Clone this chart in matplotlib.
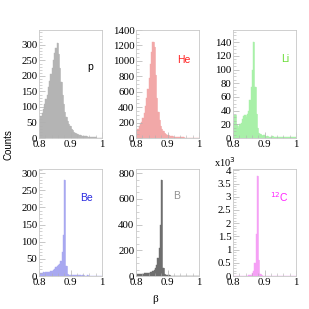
import numpy as np
import matplotlib
matplotlib.use("Agg")
import matplotlib.pyplot as plt
from matplotlib.ticker import MultipleLocator, FuncFormatter

# beta bins: 0.800 .. 1.000, width 0.004 (50 bins)
edges = np.round(np.arange(0.8, 1.0001, 0.004), 3)

counts_p = [60, 70, 80, 95, 110, 125, 140, 165, 185, 205, 225, 250, 275, 290,
            305, 270, 225, 180, 140, 110, 85, 68, 55, 45, 38, 30, 25, 20, 17, 14,
            12, 10, 9, 8, 7, 6, 5, 5, 4, 4, 3, 3, 2, 2, 2, 1, 1, 1, 1, 0]
counts_he = [100, 120, 150, 180, 210, 260, 330, 420, 520, 640, 780, 960, 1120, 1250,
             1180, 820, 520, 340, 230, 160, 120, 90, 70, 55, 42, 35, 28, 24, 20, 17,
             15, 13, 12, 10, 9, 8, 8, 7, 6, 6, 5, 5, 4, 4, 4, 3, 3, 3, 2, 2]
counts_li = [22, 33, 20, 18, 15, 20, 22, 28, 32, 33, 31, 35, 40, 55, 75,
             100, 140, 75, 35, 14, 8, 6, 5, 3, 4, 3, 2, 3, 2, 2,
             2, 3, 2, 2, 2, 1, 2, 2, 1, 2, 2, 1, 1, 2, 1, 1, 1, 2, 1, 1]
counts_be = [8, 10, 9, 11, 10, 12, 11, 13, 12, 14, 15, 18, 20, 25, 28,
             32, 35, 45, 70, 120, 280, 30, 6, 4, 3, 3, 2, 2, 3, 2,
             2, 2, 2, 1, 2, 2, 1, 1, 2, 1, 1, 1, 1, 1, 1, 1, 1, 1, 1, 0]
counts_b = [15, 16, 17, 18, 18, 19, 20, 21, 22, 24, 26, 28, 32, 38, 45,
            60, 85, 140, 220, 400, 750, 60, 12, 6, 5, 4, 4, 3, 3, 3,
            3, 2, 2, 2, 2, 2, 2, 2, 2, 1, 1, 1, 1, 1, 1, 1, 1, 1, 1, 1]
# 12C in units of 10^3
counts_c = [0.005, 0.005, 0.005, 0.006, 0.006, 0.007, 0.008, 0.008, 0.009, 0.01,
            0.012, 0.015, 0.02, 0.03, 0.05, 0.1, 0.2, 0.5, 1.6, 3.8,
            0.6, 0.08, 0.02, 0.01, 0.008, 0.006, 0.005, 0.005, 0.004, 0.004,
            0.004, 0.003, 0.003, 0.003, 0.003, 0.002, 0.002, 0.002, 0.002, 0.002,
            0.002, 0.002, 0.001, 0.001, 0.001, 0.001, 0.001, 0.001, 0.001, 0.001]

panels = [
    # counts, ylim, major, minor, label, text colour, fill colour
    (counts_p, 348, 50, 10, "p", "black", "#b4b4b4"),
    (counts_he, 1400, 200, 50, "He", "#ff2020", "#f2a8a8"),
    (counts_li, 158, 20, 5, "Li", "#66dd33", "#a8f0a8"),
    (counts_be, 312, 50, 10, "Be", "#2a2ae0", "#a8a8f0"),
    (counts_b, 832, 200, 50, "B", "#909090", "#6e6e6e"),
    (counts_c, 4.05, 0.5, 0.1, "$^{12}$C", "#ff22ff", "#f5a0f5"),
]
label_pos = [(0.76, 0.63), (0.65, 0.69), (0.77, 0.70),
             (0.65, 0.70), (0.59, 0.72), (0.58, 0.69)]

fig = plt.figure(figsize=(3.09, 3.09), dpi=100)
lefts = [39, 136, 233]
W = 309.0
serif = "Liberation Serif"

for i, (vals, ytop, maj, mnr, name, tcol, fcol) in enumerate(panels):
    row, col = divmod(i, 3)
    if row == 0:
        top, bot = 30, 138
    else:
        top, bot = 169, 276
    ax = fig.add_axes([lefts[col] / W, 1 - bot / W, 63 / W, (bot - top) / W])
    ax.stairs(vals, edges, fill=True, facecolor=fcol, edgecolor=fcol,
              hatch="//////", lw=0.3)
    ax.stairs(vals, edges, color=fcol, lw=0.5)
    ax.set_xlim(0.8, 1.0)
    ax.set_ylim(0, ytop)
    ax.xaxis.set_major_locator(MultipleLocator(0.1))
    ax.xaxis.set_minor_locator(MultipleLocator(0.02))
    ax.yaxis.set_major_locator(MultipleLocator(maj))
    ax.yaxis.set_minor_locator(MultipleLocator(mnr))
    ax.xaxis.set_major_formatter(FuncFormatter(lambda v, p: "%g" % round(v, 2)))
    ax.yaxis.set_major_formatter(FuncFormatter(lambda v, p: "%g" % round(v, 2)))
    ax.tick_params(which="both", direction="in", colors="#b0b0b0",
                   labelcolor="black", labelsize=7.8, pad=1.2)
    ax.tick_params(which="major", length=4, width=0.5)
    ax.tick_params(which="minor", length=2, width=0.4)
    for lab in ax.get_xticklabels() + ax.get_yticklabels():
        lab.set_family(serif)
    for s in ax.spines.values():
        s.set_color("#c8c8c8")
        s.set_linewidth(0.6)
    ax.text(label_pos[i][0], label_pos[i][1], name, color=tcol, fontsize=7.5,
            family="Liberation Sans", transform=ax.transAxes)
    if i == 5:
        ax.text(-0.3, 1.02, "x10$^{3}$", fontsize=7.5, family=serif,
                transform=ax.transAxes)

fig.text(8 / W, 1 - 145 / W, "Counts", rotation=90, fontsize=7,
         family="Liberation Sans", ha="center", va="center")
fig.text(155 / W, 1 - 300 / W, "β", fontsize=8, family=serif,
         ha="center", va="center")

fig.savefig("out.png", dpi=100)
